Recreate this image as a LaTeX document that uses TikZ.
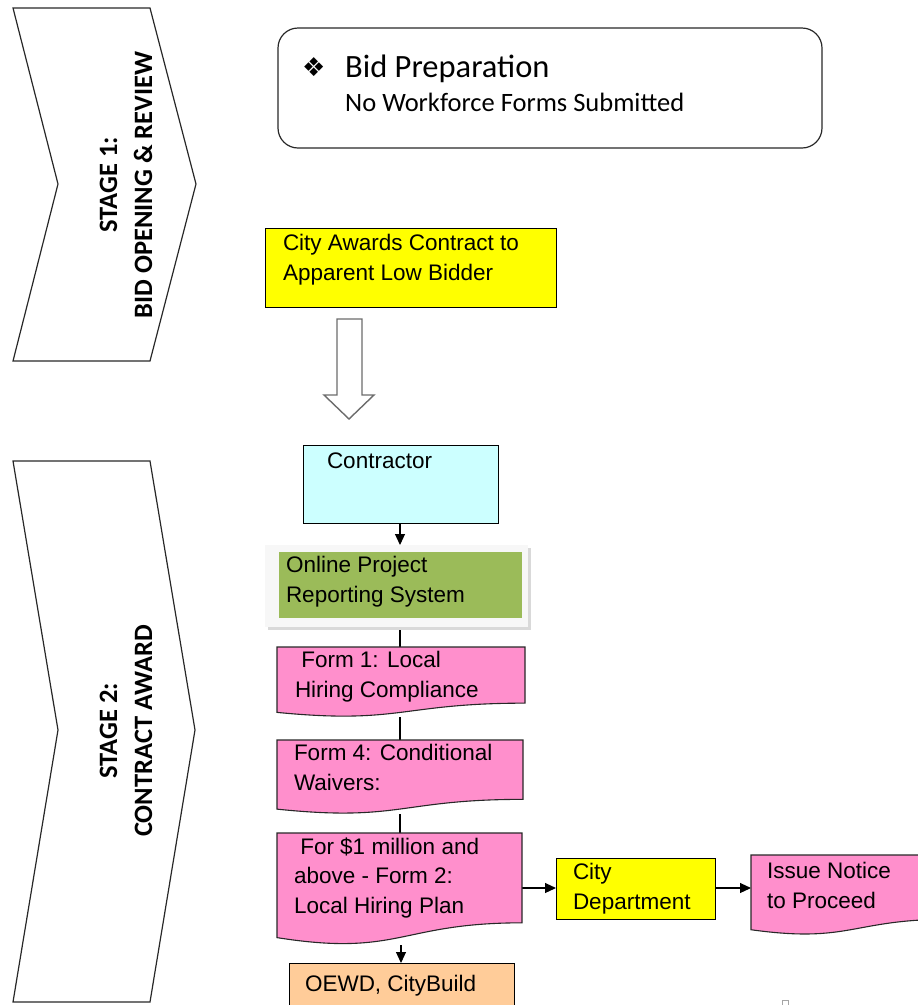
\documentclass[tikz,border=0pt]{standalone}
\usepackage{fontspec}
\setmainfont{Liberation Sans}
\newfontfamily\calibri{Carlito}
\newfontfamily\dejavu{DejaVu Sans}
\usetikzlibrary{arrows.meta,calc}
\definecolor{pinkf}{RGB}{255,143,204}
\definecolor{yellowf}{RGB}{255,255,0}
\definecolor{cyanf}{RGB}{204,255,255}
\definecolor{greenf}{RGB}{155,187,89}
\definecolor{orangef}{RGB}{255,204,153}
\definecolor{edge}{RGB}{40,40,40}
\pgfdeclarelayer{lines}
\pgfdeclarelayer{shapes}
\pgfsetlayers{lines,shapes,main}
\newcommand\docshape[2]{\filldraw[#2] (#1.north west) -- (#1.north east) -- ($(#1.north east)!0.802!(#1.south east)$) .. controls ($(#1.north)!0.802!(#1.south)$) and ($(#1.north)!1.1075!(#1.south)$) .. ($(#1.north west)!0.934!(#1.south west)$) -- cycle;}
\begin{document}
\begin{tikzpicture}[x=1pt,y=-1pt,
  box/.style={draw=black, line width=1pt, inner sep=0pt, outer sep=0pt, anchor=north west},
  slot/.style={inner sep=0pt, outer sep=0pt, anchor=north west},
  doc/.style={fill=pinkf, draw=edge, line width=1.1pt},
  txt/.style={inner sep=0pt, outer sep=0pt, anchor=base west, align=left, font=\fontsize{22.5}{29.5}\selectfont},
  stagetxt/.style={rotate=90, align=center, inner sep=0pt, font=\calibri\bfseries\fontsize{26.5}{35}\selectfont},
  chev/.style={draw=edge, line width=1.2pt, fill=white},
  conn/.style={draw=black, line width=1.1pt},
  arr/.style={conn, -{Triangle[width=10pt,length=11pt]}}]
\useasboundingbox (0,0) rectangle (918,1005);
\clip (0,0) rectangle (918,1005);
% stage chevrons
\draw[chev] (13,8) -- (150,8) -- (196,184) -- (150,361) -- (13,361) -- (58,184) -- cycle;
\node[stagetxt] (s1) at (126,185) {STAGE 1:\\BID OPENING \& REVIEW};
\draw[chev] (13,461) -- (150,461) -- (195,730) -- (150,1002) -- (13,1002) -- (58,730) -- cycle;
\node[stagetxt] (s2) at (126,731) {STAGE 2:\\CONTRACT AWARD};
% bid preparation
\node[box, draw=edge, line width=1.2pt, rounded corners=20pt, minimum width=544pt, minimum height=120pt] (bidprep) at (278,28) {};
\node[inner sep=0pt, anchor=base west, font=\dejavu\fontsize{26}{26}\selectfont] (bullet) at (302,76) {❖};
\node[inner sep=0pt, anchor=base west, font=\calibri\fontsize{32.5}{32.5}\selectfont] (bidtitle) at (345,77) {Bid Preparation};
\node[inner sep=0pt, anchor=base west, font=\calibri\fontsize{26.5}{26.5}\selectfont] (bidsub) at (345,111) {No Workforce Forms Submitted};
% city awards
\node[box, fill=yellowf, minimum width=291pt, minimum height=79pt] (award) at (265,228) {};
\node[txt] (awardt) at (283,280) {City Awards Contract to\\Apparent Low Bidder};
% block arrow
\draw[draw=gray!85!black, line width=1.4pt, fill=white] (337,319) -- (362,319) -- (362,395) -- (374,395) -- (349,419) -- (324,395) -- (337,395) -- cycle;
% contractor
\node[box, fill=cyanf, minimum width=195pt, minimum height=78pt] (contractor) at (303,445) {};
\node[txt] (contractort) at (327,468) {Contractor};
% online reporting
\fill[gray!30] (268,548) rectangle (531,630);
\node[slot, fill=gray!6, minimum width=263pt, minimum height=82pt] (onlineframe) at (265,545) {};
\node[slot, fill=greenf, minimum width=243pt, minimum height=66pt] (online) at (279,552) {};
\node[txt] (onlinet) at (286,602) {Online Project\\Reporting System};
% forms
\node[slot, minimum width=248pt, minimum height=70pt] (f1) at (277,647) {};
\node[slot, minimum width=246pt, minimum height=74pt] (f4) at (277,740) {};
\node[slot, minimum width=245pt, minimum height=112pt] (f2) at (277,833) {};
\node[slot, minimum width=200pt, minimum height=80pt] (notice) at (751,855) {};
\begin{pgfonlayer}{shapes}
\docshape{f1}{doc}
\docshape{f4}{doc}
\docshape{f2}{doc}
\docshape{notice}{doc}
\end{pgfonlayer}
\node[txt] (f1t) at (295,697) {\ Form 1: Local\\Hiring Compliance};
\node[txt] (f4t) at (294,790) {Form 4: Conditional\\Waivers:};
\node[txt] (f2t) at (294,913) {\ For \$1 million and\\above - Form 2:\\Local Hiring Plan};
\node[txt] (noticet) at (767,908) {Issue Notice\\to Proceed};
% city department
\node[box, fill=yellowf, minimum width=159pt, minimum height=61pt] (city) at (556,858) {};
\node[txt] (cityt) at (573,909) {City\\Department};
% OEWD
\node[box, fill=orangef, minimum width=225pt, minimum height=60pt] (oewd) at (289,963) {};
\node[txt] (oewdt) at (305,991) {OEWD, CityBuild};
% small mark
\draw[gray!70, line width=0.8pt] (782,1000) rectangle (788,1010);
% connectors
\begin{pgfonlayer}{lines}
\draw[arr] (contractor.south -| 400,0) -- (onlineframe.north -| 400,0);
\draw[conn] (onlineframe.south -| 400,0) -- (f1.north -| 400,0);
\draw[conn] (f1.south -| 400,0) -- (f4.north -| 400,0);
\draw[conn] (f4.south -| 400,0) -- (f2.north -| 400,0);
\draw[arr] (f2.south -| 401,0) -- (oewd.north -| 401,0);
\draw[arr] (f2.east |- 0,888) -- (city.west |- 0,888);
\draw[arr] (city.east |- 0,888) -- (notice.west |- 0,888);
\end{pgfonlayer}
\end{tikzpicture}
\end{document}
